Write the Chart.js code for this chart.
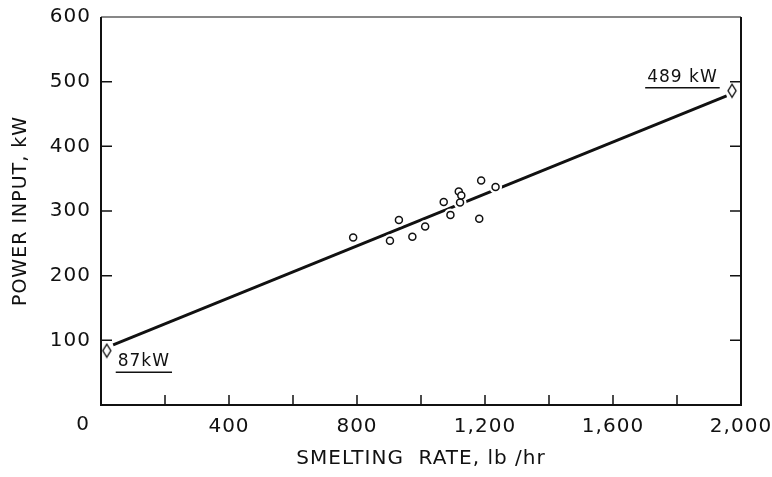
<!DOCTYPE html>
<html lang="en">
<head>
<meta charset="UTF-8">
<title>Power input vs smelting rate</title>
<script src="https://cdn.jsdelivr.net/npm/chart.js"></script>
<style>
  html, body { margin: 0; padding: 0; background: #fff; }
  #wrap { width: 772px; height: 477px; }
</style>
</head>
<body>
<div id="wrap"><canvas id="chart" width="772" height="477"></canvas></div>
<script>
// measured points: smelting rate (lb/hr) and power input (kW)
const rate  = [788, 903, 931, 973, 1013, 1071, 1092, 1118, 1122, 1126, 1182, 1188, 1233];
const power = [259, 254, 286, 260, 276, 314, 294, 330, 313, 324, 288, 347, 337];

// fitted line as drawn
const fitRate  = [38, 1955];
const fitPower = [93, 478];

// diamond end markers and their notes
const endRate  = [18, 1972];
const endPower = [84, 486];
const noteText = ['87kW', '489 kW'];
const noteRate = [134, 1817];
const notePower = [67, 507];

// axes
const xLabelled = [400, 800, 1200, 1600, 2000];
const xMax = 2000, xStep = 200;
const yMax = 600, yStep = 100;

const ink = '#111';
const fontFamily = '"DejaVu Sans", sans-serif';

// tall diamond used for the end markers
function makeDiamond() {
    const c = document.createElement('canvas');
    c.width = 12; c.height = 16;
    const g = c.getContext('2d');
    g.beginPath();
    g.moveTo(6, 1.5); g.lineTo(10, 8); g.lineTo(6, 14.5); g.lineTo(2, 8);
    g.closePath();
    g.fillStyle = '#fff';
    g.fill();
    g.strokeStyle = ink;
    g.lineWidth = 1.4;
    g.stroke();
    return c;
}

function pairs(xs, ys) {
    return xs.map((v, i) => ({ x: v, y: ys[i] }));
}

// box, inward ticks, corner zero and the kW notes
const framePlugin = {
    id: 'frame',
    beforeUpdate(chart) { chart.ctx.letterSpacing = '1px'; },
    beforeDraw(chart) { chart.ctx.letterSpacing = '1px'; },
    afterDraw(chart) {
        const { ctx, chartArea: a, scales: { x, y } } = chart;
        ctx.save();
        ctx.strokeStyle = ink;
        ctx.lineWidth = 2;
        ctx.beginPath();
        ctx.moveTo(a.left, a.top);
        ctx.lineTo(a.left, a.bottom);
        ctx.lineTo(a.right, a.bottom);
        ctx.lineTo(a.right, a.top);
        ctx.stroke();
        ctx.lineWidth = 1.2;
        ctx.beginPath();
        ctx.moveTo(a.left, a.top);
        ctx.lineTo(a.right, a.top);
        ctx.stroke();

        // tick marks pointing into the plot
        ctx.lineWidth = 1.5;
        ctx.beginPath();
        x.ticks.forEach(t => {
            if (t.value <= 0 || t.value >= xMax) return;
            const px = x.getPixelForValue(t.value);
            ctx.moveTo(px, a.bottom);
            ctx.lineTo(px, a.bottom - 10);
        });
        y.ticks.forEach(t => {
            if (t.value <= 0 || t.value >= yMax) return;
            const py = y.getPixelForValue(t.value);
            ctx.moveTo(a.left, py);
            ctx.lineTo(a.left + 11, py);
            ctx.moveTo(a.right, py);
            ctx.lineTo(a.right - 11, py);
        });
        ctx.stroke();

        ctx.fillStyle = ink;
        ctx.letterSpacing = '1px';

        // shared zero at the corner
        ctx.font = '20px ' + fontFamily;
        ctx.textAlign = 'right';
        ctx.textBaseline = 'middle';
        ctx.fillText('0', a.left - 11, a.bottom + 20);

        // notes with underline
        ctx.font = '17px ' + fontFamily;
        ctx.textAlign = 'center';
        noteText.forEach((txt, i) => {
            const cx = x.getPixelForValue(noteRate[i]);
            const cy = y.getPixelForValue(notePower[i]);
            ctx.fillText(txt, cx, cy);
            const w = ctx.measureText(txt).width;
            ctx.lineWidth = 1.5;
            ctx.beginPath();
            ctx.moveTo(cx - w / 2 - 2, cy + 10.5);
            ctx.lineTo(cx + w / 2 + 2, cy + 10.5);
            ctx.stroke();
        });
        ctx.restore();
    }
};

document.addEventListener('DOMContentLoaded', function () {
    const diamond = makeDiamond();
    const ctx = document.getElementById('chart').getContext('2d');

    new Chart(ctx, {
        type: 'scatter',
        data: {
            datasets: [
                {
                    // measured points
                    data: pairs(rate, power),
                    pointRadius: 3.5,
                    pointBorderWidth: 1.5,
                    pointBackgroundColor: '#fff',
                    pointBorderColor: ink,
                    order: 0
                },
                {
                    // white halo that breaks the line around each point
                    data: pairs(rate, power),
                    pointRadius: 6.5,
                    pointBorderWidth: 0,
                    pointBackgroundColor: '#fff',
                    pointBorderColor: '#fff',
                    order: 1
                },
                {
                    type: 'line',
                    data: pairs(fitRate, fitPower),
                    borderColor: ink,
                    borderWidth: 2.8,
                    pointRadius: 0,
                    fill: false,
                    tension: 0,
                    order: 2
                },
                {
                    data: pairs(endRate, endPower),
                    pointStyle: diamond,
                    order: 0
                }
            ]
        },
        options: {
            responsive: false,
            animation: false,
            layout: { padding: { top: 17, right: 31, left: 0, bottom: 0 } },
            plugins: {
                legend: { display: false },
                tooltip: { enabled: false }
            },
            scales: {
                x: {
                    type: 'linear',
                    min: 0,
                    max: xMax,
                    afterFit: s => {
                        s.height = 72;
                        s.paddingLeft = 0;
                        s.paddingRight = 0;
                    },
                    grid: { display: false, drawTicks: false },
                    border: { display: false },
                    ticks: {
                        stepSize: xStep,
                        autoSkip: false,
                        maxRotation: 0,
                        padding: 10,
                        color: ink,
                        font: { family: fontFamily, size: 20 },
                        callback: v => xLabelled.includes(v) ? v.toLocaleString('en-US') : ''
                    },
                    title: {
                        display: true,
                        text: 'SMELTING  RATE, lb /hr',
                        color: ink,
                        font: { family: fontFamily, size: 20 },
                        padding: { top: 0, bottom: 6 }
                    }
                },
                y: {
                    min: 0,
                    max: yMax,
                    afterFit: s => {
                        s.width = 101;
                        s.paddingTop = 0;
                        s.paddingBottom = 0;
                    },
                    grid: { display: false, drawTicks: false },
                    border: { display: false },
                    ticks: {
                        stepSize: yStep,
                        padding: 10,
                        color: ink,
                        font: { family: fontFamily, size: 20 },
                        callback: v => v === 0 ? '' : v
                    },
                    title: {
                        display: true,
                        text: 'POWER INPUT, kW',
                        color: ink,
                        font: { family: fontFamily, size: 19 },
                        padding: { top: 10, bottom: 0 }
                    }
                }
            }
        },
        plugins: [framePlugin]
    });
});
</script>
</body>
</html>
